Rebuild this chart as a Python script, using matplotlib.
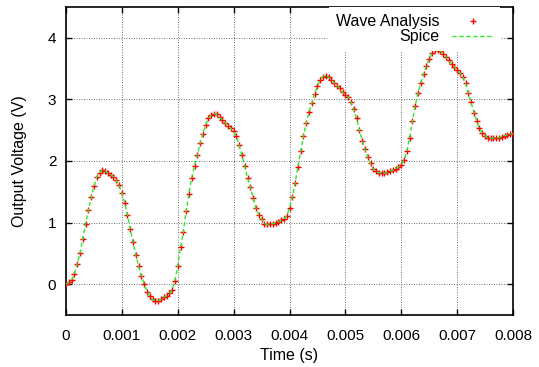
import numpy as np
import matplotlib
matplotlib.use('Agg')
from matplotlib import pyplot as plt

# Time axis: one sample every 0.00005 s from 0 to 0.008 s
time_step = 0.00005
n_samples = 161

# Output voltage (V)
voltage = [
    0.00, 0.03, 0.07, 0.16, 0.33, 0.50, 0.74, 0.98, 1.20, 1.41,
    1.59, 1.74, 1.81, 1.855, 1.84, 1.80, 1.78, 1.74, 1.69, 1.61,
    1.48, 1.32, 1.12, 0.89, 0.68, 0.47, 0.29, 0.13, 0.00, -0.12,
    -0.195, -0.245, -0.27, -0.265, -0.245, -0.21, -0.19, -0.15, -0.09, 0.06,
    0.30, 0.60, 0.85, 1.19, 1.47, 1.73, 1.92, 2.10, 2.29, 2.44,
    2.59, 2.69, 2.75, 2.77, 2.755, 2.71, 2.66, 2.62, 2.57, 2.53,
    2.48, 2.40, 2.26, 2.09, 1.92, 1.72, 1.575, 1.40, 1.23, 1.13,
    1.06, 0.985, 0.97, 0.97, 0.98, 0.995, 1.01, 1.035, 1.06, 1.11,
    1.24, 1.41, 1.64, 1.91, 2.16, 2.40, 2.62, 2.80, 2.94, 3.09,
    3.22, 3.32, 3.37, 3.385, 3.36, 3.315, 3.27, 3.22, 3.18, 3.12,
    3.07, 3.04, 2.96, 2.84, 2.69, 2.51, 2.33, 2.19, 2.07, 1.96,
    1.87, 1.83, 1.81, 1.80, 1.80, 1.815, 1.835, 1.85, 1.87, 1.90,
    1.94, 2.02, 2.16, 2.38, 2.65, 2.90, 3.10, 3.27, 3.41, 3.54,
    3.65, 3.75, 3.795, 3.81, 3.785, 3.74, 3.69, 3.635, 3.58, 3.53,
    3.47, 3.43, 3.37, 3.27, 3.10, 2.95, 2.785, 2.65, 2.53, 2.45,
    2.405, 2.375, 2.37, 2.37, 2.37, 2.38, 2.39, 2.41, 2.425, 2.435,
    2.445,
]

wave_analysis_v = voltage
spice_v = voltage
time = np.arange(n_samples) * time_step

x_ticks = [0, 0.001, 0.002, 0.003, 0.004, 0.005, 0.006, 0.007, 0.008]
x_tick_labels = ['0', '0.001', '0.002', '0.003', '0.004', '0.005', '0.006', '0.007', '0.008']
y_ticks = [0, 1, 2, 3, 4]

plt.rcParams['font.family'] = ['Liberation Sans', 'DejaVu Sans']
plt.rcParams['font.size'] = 11.5

fig = plt.figure(figsize=(5.39, 3.67), dpi=100)
ax = fig.add_axes([66 / 539, 1 - 315 / 367, 447 / 539, 308 / 367])

ax.plot(time, wave_analysis_v, linestyle='none', marker='+', color='#ff0000',
        markersize=5, markeredgewidth=1.0, label='Wave Analysis', zorder=3)
ax.plot(time, spice_v, linestyle=(0, (3, 2)), color='#22ee22', linewidth=1.0,
        label='Spice', zorder=4)

ax.set_xlim(0, 0.008)
ax.set_ylim(-0.5, 4.5)
ax.set_xticks(x_ticks)
ax.set_xticklabels(x_tick_labels)
ax.set_yticks(y_ticks)
ax.set_yticklabels([str(v) for v in y_ticks])

ax.grid(True, color='black', linestyle=(0, (1, 2)), linewidth=0.6, alpha=0.75, zorder=1)
ax.set_axisbelow(True)
ax.tick_params(direction='in', length=4, width=1, top=True, right=True,
               labelsize=11, colors='black')
ax.tick_params(axis='x', pad=10)
ax.tick_params(axis='y', pad=7)
for sp in ax.spines.values():
    sp.set_linewidth(1.2)

ax.set_xlabel('Time (s)', fontsize=11.5, labelpad=4)
ax.set_ylabel('Output Voltage (V)', fontsize=11.5, labelpad=15)

leg = ax.legend(loc='upper right', bbox_to_anchor=(0.972, 1.0), markerfirst=False,
                frameon=True, fancybox=False, framealpha=1, edgecolor='none',
                facecolor='white', borderpad=0.45, borderaxespad=0,
                handlelength=2.6, handletextpad=0.75, labelspacing=0.0,
                fontsize=11.5)
leg.set_zorder(5)

fig.savefig('out.png', dpi=100)
